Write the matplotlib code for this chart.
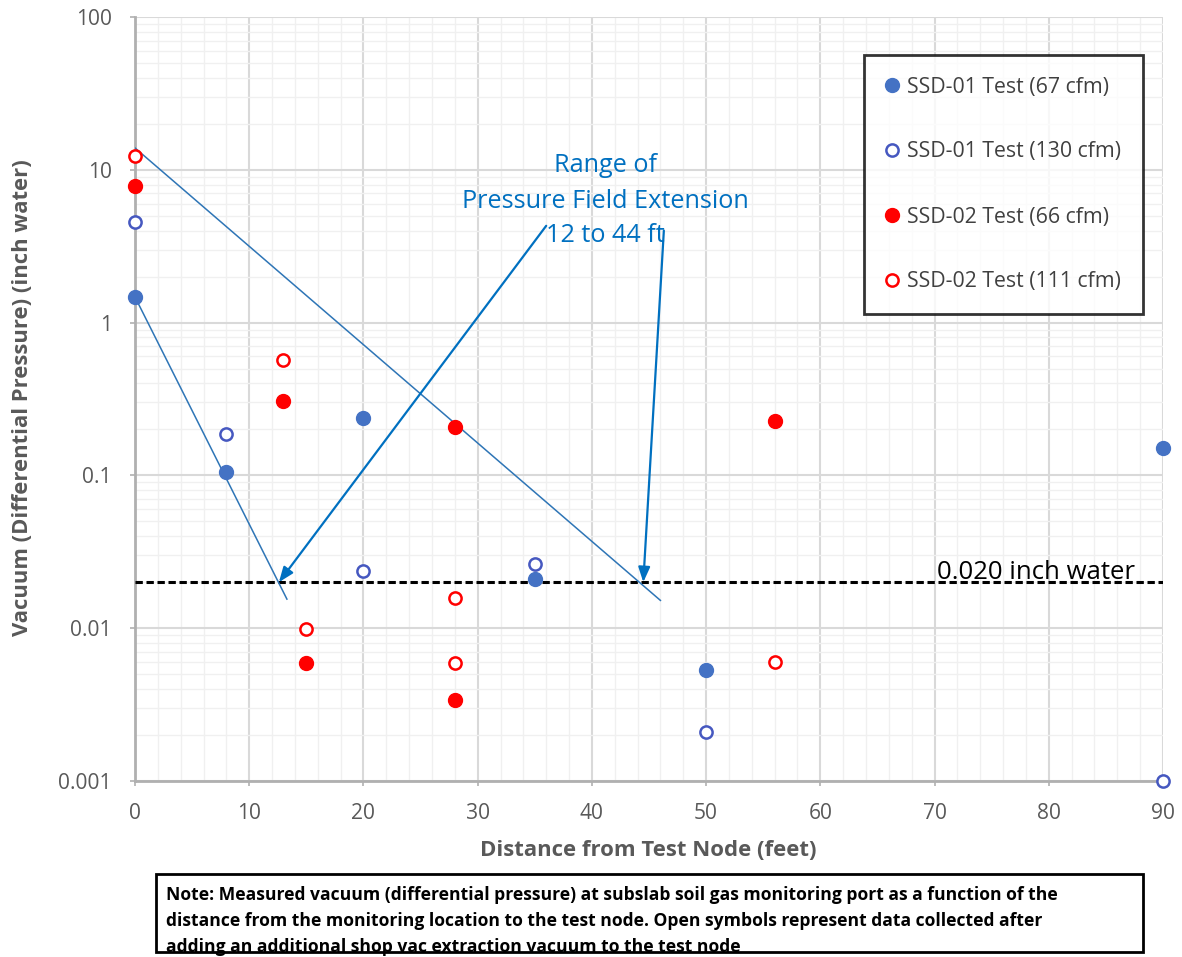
import matplotlib
matplotlib.use("Agg")
import matplotlib.pyplot as plt
from matplotlib.ticker import FixedLocator, FixedFormatter, MultipleLocator, LogLocator, NullFormatter
from matplotlib.patches import Rectangle

plt.rcParams['font.family'] = ['Open Sans', 'DejaVu Sans']

# ---------------- data ----------------
ssd01_67_x = [0, 8, 20, 35, 50, 90]
ssd01_67_y = [1.47, 0.106, 0.237, 0.021, 0.0053, 0.150]

ssd01_130_x = [0, 8, 20, 35, 50, 90]
ssd01_130_y = [4.55, 0.188, 0.0237, 0.0263, 0.0021, 0.001]

ssd02_66_x = [0, 13, 15, 28, 28, 56]
ssd02_66_y = [7.8, 0.308, 0.0059, 0.206, 0.0034, 0.227]

ssd02_111_x = [0, 13, 15, 28, 28, 56]
ssd02_111_y = [12.4, 0.569, 0.0099, 0.0158, 0.0059, 0.0060]

series_labels = ["SSD-01 Test (67 cfm)", "SSD-01 Test (130 cfm)",
                 "SSD-02 Test (66 cfm)", "SSD-02 Test (111 cfm)"]

threshold = 0.020
threshold_label = "0.020 inch water"

# hand-drawn guide lines in the original
guide1_x = [0, 13.3]
guide1_y = [1.47, 0.0155]
guide2_x = [0, 46.0]
guide2_y = [13.9, 0.0152]

# annotation arrows: (tail, head)
arrow1_tail = (36.0, 4.3)
arrow1_head = (12.6, 0.020)
arrow2_tail = (46.3, 4.0)
arrow2_head = (44.5, 0.020)
annot_lines = ["Range of", "Pressure Field Extension", "12 to 44 ft"]

x_ticks = [0, 10, 20, 30, 40, 50, 60, 70, 80, 90]
y_ticks = [0.001, 0.01, 0.1, 1, 10, 100]
y_ticklabels = ["0.001", "0.01", "0.1", "1", "10", "100"]

x_label = "Distance from Test Node (feet)"
y_label = "Vacuum (Differential Pressure) (inch water)"
note_lines = ["Note: Measured vacuum (differential pressure) at subslab soil gas monitoring port as a function of the",
              "distance from the monitoring location to the test node. Open symbols represent data collected after",
              "adding an additional shop vac extraction vacuum to the test node"]

# ---------------- styling ----------------
BLUE = "#4472C4"
BLUE_OPEN = "#4658C0"
RED = "#FF0000"
ANN = "#0070C0"
GRAY_TXT = "#595959"
GRID = "#d9d9d9"
MINOR = "#f0f0f0"

W, H = 1182, 957
fig = plt.figure(figsize=(W / 100, H / 100), dpi=100)
renderer = fig.canvas.get_renderer()


def fp(x, y):
    """pixel (from top-left) -> figure fraction"""
    return x / W, 1 - y / H


def fit(t, target, vertical=False):
    for _ in range(4):
        bb = t.get_window_extent(renderer)
        size = bb.height if vertical else bb.width
        t.set_fontsize(t.get_fontsize() * target / size)
    return t.get_fontsize()


def fitted_size(s, target, **kw):
    t = fig.text(0, 0, s, fontsize=12, **kw)
    f = fit(t, target)
    t.remove()
    return f


ax = fig.add_axes([135 / W, 1 - 781 / H, (1163 - 135) / W, (781 - 17) / H])
ax.set_yscale('log')
ax.set_xlim(0, 90)
ax.set_ylim(0.001, 100)

ax.xaxis.set_major_locator(FixedLocator(x_ticks))
ax.xaxis.set_minor_locator(MultipleLocator(2))
ax.yaxis.set_major_locator(FixedLocator(y_ticks))
ax.yaxis.set_major_formatter(FixedFormatter(y_ticklabels))
ax.yaxis.set_minor_locator(LogLocator(base=10, subs=range(2, 10)))
ax.yaxis.set_minor_formatter(NullFormatter())

ax.grid(which='minor', color=MINOR, linewidth=1.0, zorder=0)
ax.grid(which='major', color=GRID, linewidth=1.5, zorder=0)
ax.set_axisbelow(True)

for s in ['top', 'right']:
    ax.spines[s].set_visible(False)
for s in ['left', 'bottom']:
    ax.spines[s].set_color("#b0b0b0")
    ax.spines[s].set_linewidth(2.0)

tick_fs = fitted_size("0.001", 54)
ax.tick_params(axis='both', which='major', length=3.6, width=1.2, color="#b0b0b0",
               labelsize=tick_fs, labelcolor=GRAY_TXT)
ax.tick_params(axis='x', pad=12)
ax.tick_params(axis='y', pad=13)
ax.tick_params(which='minor', length=0)

# axis titles
xl = fig.text(*fp(648, 851), x_label, ha='center', va='center', fontsize=15,
              fontweight='bold', color=GRAY_TXT)
fit(xl, 337)
yl = fig.text(*fp(23, 398), y_label, ha='center', va='center', rotation=90,
              fontsize=14, fontweight='bold', color=GRAY_TXT)
fit(yl, 477, vertical=True)

# threshold line
ax.plot([0, 90], [threshold, threshold], color='black', linestyle=(0, (2.4, 1.2)),
        linewidth=2.2, zorder=3)
tl = fig.text(*fp(1135, 579), threshold_label, ha='right', va='baseline', fontsize=16,
              color='black', zorder=4)
fit(tl, 198)

# guide lines
ax.plot(guide1_x, guide1_y, color="#2E75B6", linewidth=1.1, zorder=3)
ax.plot(guide2_x, guide2_y, color="#2E75B6", linewidth=1.1, zorder=3)

# annotation arrows
for tail, head in [(arrow1_tail, arrow1_head), (arrow2_tail, arrow2_head)]:
    ax.annotate("", xy=head, xytext=tail,
                arrowprops=dict(arrowstyle="-|>,head_length=0.9,head_width=0.35",
                                color=ANN, lw=1.6, shrinkA=0, shrinkB=0), zorder=4)
ann_fs = fitted_size(annot_lines[1], 287)
for line, yc in zip(annot_lines, [162, 198, 233]):
    fig.text(*fp(605, yc), line, ha='center', va='center_baseline', fontsize=ann_fs,
             color=ANN, zorder=5)

# data
ax.plot(ssd01_67_x, ssd01_67_y, 'o', color=BLUE, markersize=10, linestyle='none',
        label=series_labels[0], zorder=6, clip_on=False)
ax.plot(ssd01_130_x, ssd01_130_y, 'o', markerfacecolor='white', markeredgecolor=BLUE_OPEN,
        markeredgewidth=1.8, markersize=8.8, linestyle='none',
        label=series_labels[1], zorder=6, clip_on=False)
ax.plot(ssd02_66_x, ssd02_66_y, 'o', color=RED, markersize=10, linestyle='none',
        label=series_labels[2], zorder=6, clip_on=False)
ax.plot(ssd02_111_x, ssd02_111_y, 'o', markerfacecolor='white', markeredgecolor=RED,
        markeredgewidth=1.8, markersize=8.8, linestyle='none',
        label=series_labels[3], zorder=6, clip_on=False)

# legend, tuned so rows sit ~65 px apart with first row ~32 px below the frame top
leg_fs = fitted_size(series_labels[0], 200)
fs_px = leg_fs * 100 / 72
anchor = ax.transAxes.inverted().transform(fig.transFigure.transform(fp(1143, 55)))
ls, bp = 2.3, 1.0
for _ in range(4):
    leg = ax.legend(loc='upper right', bbox_to_anchor=tuple(anchor), fontsize=leg_fs,
                    frameon=True, fancybox=False, edgecolor='black', labelspacing=ls,
                    handletextpad=0.45, handlelength=0.6, borderpad=bp, borderaxespad=0)
    leg.get_frame().set_linewidth(2.0)
    fig.canvas.draw()
    cs = [(t.get_window_extent(renderer).y0 + t.get_window_extent(renderer).y1) / 2
          for t in leg.get_texts()]
    d = (cs[0] - cs[-1]) / 3
    top = leg.get_frame().get_window_extent(renderer).y1 - cs[0]
    ls += (65 - d) / fs_px
    bp += (32 - top) / fs_px
leg.set_zorder(10)
for t in leg.get_texts():
    t.set_color("#404040")

# note box
box_l, box_r, box_t, box_b = 156, 1143, 874, 952
rect = Rectangle(fp(box_l, box_b), (box_r - box_l) / W, (box_b - box_t) / H,
                 transform=fig.transFigure, fill=False, edgecolor='black',
                 linewidth=2.0, zorder=5)
fig.patches.append(rect)
note_fs = fitted_size(note_lines[0], 894, fontweight='bold')
for line, yb in zip(note_lines, [900.5, 926, 951.5]):
    fig.text(*fp(166, yb), line, ha='left', va='baseline', fontsize=note_fs,
             color='black', fontweight='bold', zorder=4)

fig.savefig("out.png", dpi=100)
